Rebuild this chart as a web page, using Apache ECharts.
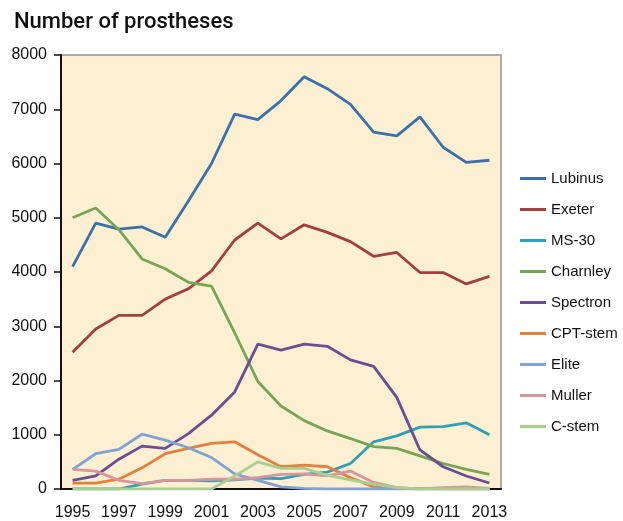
<!DOCTYPE html>
<html>
<head>
<meta charset="utf-8">
<script src="https://cdn.jsdelivr.net/npm/echarts@6/dist/echarts.min.js"></script>
<style>
  html, body { margin: 0; padding: 0; background: #fff; }
  #chart { width: 623px; height: 521px; }
</style>
</head>
<body>
<div id="chart"></div>
<script>
// 年份
var years = ["1995", "1996", "1997", "1998", "1999", "2000", "2001", "2002", "2003", "2004",
    "2005", "2006", "2007", "2008", "2009", "2010", "2011", "2012", "2013"];

// 各型号假体数量
var lubinus  = [4100, 4900, 4790, 4830, 4640, 5310, 6000, 6910, 6810, 7160, 7600, 7380, 7090, 6580, 6510, 6860, 6300, 6020, 6060];
var exeter   = [2520, 2950, 3200, 3200, 3500, 3690, 4020, 4590, 4900, 4610, 4870, 4730, 4560, 4290, 4360, 3990, 3990, 3780, 3920];
var ms30     = [0, 0, 0, 90, 160, 160, 150, 170, 200, 190, 270, 310, 470, 870, 980, 1140, 1150, 1220, 1000];
var charnley = [5000, 5180, 4780, 4240, 4060, 3810, 3740, 2880, 1980, 1530, 1260, 1070, 930, 780, 750, 610, 470, 360, 270];
var spectron = [160, 240, 550, 790, 750, 1020, 1360, 1790, 2670, 2560, 2670, 2630, 2380, 2260, 1690, 720, 410, 240, 110];
var cptStem  = [110, 110, 180, 390, 650, 750, 840, 870, 630, 410, 440, 410, 210, 40, 15, 10, 5, 5, 5];
var elite    = [360, 650, 730, 1010, 900, 760, 580, 280, 160, 40, 10, 0, 0, 0, 0, 0, 0, 0, 0];
var muller   = [360, 330, 160, 100, 160, 160, 180, 180, 210, 270, 280, 240, 330, 120, 25, 0, 25, 40, 10];
var cStem    = [0, 0, 0, 0, 0, 0, 0, 240, 500, 380, 380, 250, 170, 90, 25, 0, 0, 0, 0];

var yTicks = [0, 1000, 2000, 3000, 4000, 5000, 6000, 7000, 8000];

var seriesNames = ["Lubinus", "Exeter", "MS-30", "Charnley", "Spectron", "CPT-stem", "Elite", "Muller", "C-stem"];
var seriesData = [lubinus, exeter, ms30, charnley, spectron, cptStem, elite, muller, cStem];
var myColor = ["#3b70aa", "#a2403d", "#2f9fb5", "#76a554", "#6a4e93", "#e3803e", "#80a3d6", "#d8959a", "#a7cf8f"];

(function () {
    var myChart = echarts.init(document.getElementById("chart"));
    var font = "'Liberation Sans', Arial, sans-serif";

    var series = seriesNames.map(function (name, i) {
        return {
            name: name,
            type: "line",
            data: seriesData[i],
            symbol: "none",
            lineStyle: { width: 2.8, color: myColor[i] },
            itemStyle: { color: myColor[i] },
        };
    });

    var option = {
        animation: false,
        title: {
            text: "Number of prostheses",
            left: 9,
            top: 6,
            textStyle: {
                fontFamily: "Roboto, " + font,
                fontSize: 22,
                fontWeight: 500,
                color: "#111",
            },
        },
        legend: {
            orient: "vertical",
            left: 515,
            top: 166,
            itemWidth: 26,
            itemHeight: 14,
            itemGap: 16,
            icon: "path://M0,0 L26,0 L26,3 L0,3 Z",
            textStyle: { fontFamily: font, fontSize: 15, color: "#111" },
            data: seriesNames,
        },
        grid: {
            left: 61,
            right: 122,
            top: 55,
            bottom: 32,
            show: true,
            backgroundColor: "#fdefd2",
            borderColor: "#aaaaaa",
            borderWidth: 2,
        },
        xAxis: {
            type: "category",
            data: years,
            boundaryGap: true,
            axisLine: { lineStyle: { color: "#111", width: 2 } },
            axisTick: {
                alignWithLabel: true,
                interval: 1,
                length: 6,
                lineStyle: { color: "#111", width: 1.5 },
            },
            axisLabel: {
                interval: 1,
                margin: 16,
                fontFamily: font,
                fontSize: 16,
                color: "#111",
            },
        },
        yAxis: {
            type: "value",
            min: yTicks[0],
            max: yTicks[yTicks.length - 1],
            interval: 1000,
            axisLine: { show: true, lineStyle: { color: "#111", width: 2 } },
            axisTick: { show: true, length: 7, lineStyle: { color: "#111", width: 1.5 } },
            splitLine: { show: false },
            axisLabel: {
                margin: 14,
                fontFamily: font,
                fontSize: 16,
                color: "#111",
                formatter: function (v) { return String(v); },
            },
        },
        series: series,
    };
    myChart.setOption(option);
})();
</script>
</body>
</html>
